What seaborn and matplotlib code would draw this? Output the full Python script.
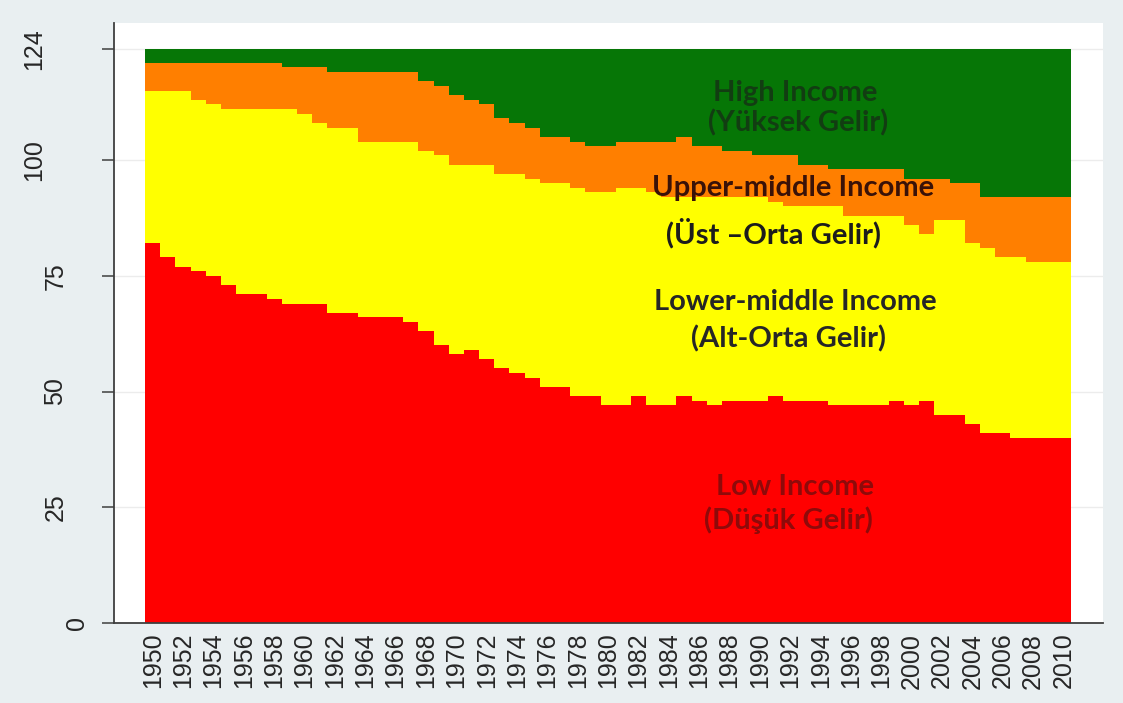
import matplotlib
matplotlib.use("Agg")
import matplotlib.pyplot as plt
import matplotlib.transforms as mtransforms
import seaborn as sns
import pandas as pd

# number of countries in each income group, 1950-2010
years = list(range(1950, 2011))
low_income = [82, 79, 77, 76, 75, 73, 71, 71, 70, 69, 69, 69, 67, 67, 66, 66, 66, 65, 63, 60,
              58, 59, 57, 55, 54, 53, 51, 51, 49, 49, 47, 47, 49, 47, 47, 49, 48, 47, 48, 48,
              48, 49, 48, 48, 48, 47, 47, 47, 47, 48, 47, 48, 45, 45, 43, 41, 41, 40, 40, 40, 40]
lower_middle = [33, 36, 38, 37, 37, 38, 40, 40, 41, 42, 41, 39, 40, 40, 38, 38, 38, 39, 39, 41,
                41, 40, 42, 42, 43, 43, 44, 44, 45, 44, 46, 47, 45, 46, 45, 43, 44, 45, 44, 44,
                44, 42, 42, 42, 42, 43, 41, 41, 41, 40, 39, 36, 42, 42, 39, 40, 38, 39, 38, 38, 38]
upper_middle = [6, 6, 6, 8, 9, 10, 10, 10, 10, 9, 10, 12, 12, 12, 15, 15, 15, 15, 15, 15,
                15, 14, 13, 12, 11, 11, 10, 10, 10, 10, 10, 10, 10, 11, 12, 13, 11, 11, 10, 10,
                9, 10, 11, 9, 9, 8, 10, 10, 10, 10, 10, 12, 9, 8, 13, 11, 13, 13, 14, 14, 14]
high_income = [3, 3, 3, 3, 3, 3, 3, 3, 3, 4, 4, 4, 5, 5, 5, 5, 5, 5, 7, 8,
               10, 11, 12, 15, 16, 17, 19, 19, 20, 21, 21, 20, 20, 20, 20, 19, 21, 21, 22, 22,
               23, 23, 23, 25, 25, 26, 26, 26, 26, 26, 28, 28, 28, 29, 29, 32, 32, 32, 32, 32, 32]

groups = ["High Income", "Upper-middle Income", "Lower-middle Income", "Low Income"]
colors = {"Low Income": "#ff0000", "Lower-middle Income": "#ffff00",
          "Upper-middle Income": "#ff7f00", "High Income": "#067606"}
y_ticks = [0, 25, 50, 75, 100, 124]
x_ticks = list(range(1950, 2011, 2))

df = pd.concat([
    pd.DataFrame({"year": years, "count": low_income, "group": "Low Income"}),
    pd.DataFrame({"year": years, "count": lower_middle, "group": "Lower-middle Income"}),
    pd.DataFrame({"year": years, "count": upper_middle, "group": "Upper-middle Income"}),
    pd.DataFrame({"year": years, "count": high_income, "group": "High Income"}),
])

sns.set_theme(style="white")
plt.rcParams["font.family"] = ["Liberation Sans", "DejaVu Sans"]

fig = plt.figure(figsize=(11.23, 7.03), dpi=100, facecolor="#e9eff1")
ax = fig.add_axes([114 / 1123, 80 / 703, 989 / 1123, 600 / 703])
ax.set_facecolor("white")

sns.histplot(data=df, x="year", weights="count", hue="group", hue_order=groups,
             multiple="stack", discrete=True, element="step", palette=colors,
             alpha=1, linewidth=0, legend=False, ax=ax)

ax.set_xlim(1947.45, 2012.6)
ax.set_ylim(0, 129.6)
ax.set_xlabel("")
ax.set_ylabel("")

ax.yaxis.grid(True, color="#ececec", linewidth=1)
ax.set_axisbelow(True)
for side in ["top", "right"]:
    ax.spines[side].set_visible(False)
for side in ["left", "bottom"]:
    ax.spines[side].set_color("#3f3f3f")
    ax.spines[side].set_linewidth(1.3)

ax.set_xticks(x_ticks)
ax.set_xticklabels([str(y) for y in x_ticks], rotation=90, fontsize=18, color="#262626")
ax.tick_params(axis="x", length=0, pad=7)

ax.set_yticks(y_ticks)
ax.set_yticklabels([str(v) for v in y_ticks], rotation=90, va="center", fontsize=18,
                   color="#262626")
ax.tick_params(axis="y", left=True, direction="out", length=8.6, width=1.1,
               color="#3f3f3f", pad=9.5)
# stagger the y labels the way the original does
for lbl in ax.get_yticklabels():
    n = len(lbl.get_text())
    shift = mtransforms.ScaledTranslation(-(n - 1) * 0.215, 0, fig.dpi_scale_trans)
    lbl.set_transform(lbl.get_transform() + shift)

lab = dict(ha="center", va="center", fontsize=21, fontweight="bold",
           family=["Lato", "DejaVu Sans"])
ax.text(1992.3, 114.5, "High Income", color="#123d12", **lab)
ax.text(1992.5, 108.0, "(Yüksek Gelir)", color="#123d12", **lab)
ax.text(1992.2, 94.0, "Upper-middle Income", color="#3a1208", **lab)
ax.text(1990.9, 84.3, "(Üst –Orta Gelir)", color="#1c1c1c", **lab)
ax.text(1992.3, 69.4, "Lower-middle Income", color="#262626", **lab)
ax.text(1991.9, 61.4, "(Alt-Orta Gelir)", color="#262626", **lab)
ax.text(1992.3, 29.4, "Low Income", color="#8e0a0a", **lab)
ax.text(1991.9, 22.3, "(Düşük Gelir)", color="#8e0a0a", **lab)

fig.savefig("out.png", dpi=100, facecolor=fig.get_facecolor())
